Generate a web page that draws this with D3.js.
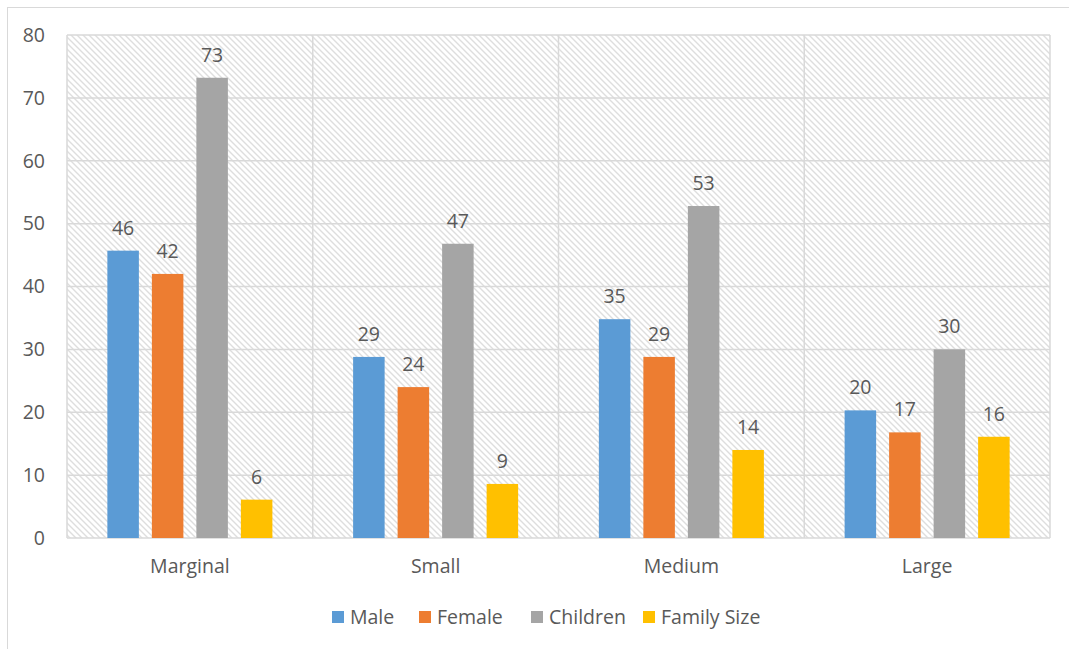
<!DOCTYPE html>
<html>
<head>
<meta charset="utf-8">
<script src="https://cdnjs.cloudflare.com/ajax/libs/d3/7.8.5/d3.min.js"></script>
<style>
body { margin: 0; background: #fff; font-family: "Open Sans", sans-serif; }
text { fill: #595959; }
</style>
</head>
<body>
<svg id="chart" width="1069" height="649"></svg>
<script>
var categories = ['Marginal', 'Small', 'Medium', 'Large'];
var seriesNames = ['Male', 'Female', 'Children', 'Family Size'];
var colors = ['#5b9bd5', '#ed7d31', '#a5a5a5', '#ffc000'];
var male = [45.7, 28.8, 34.8, 20.3];
var female = [42.0, 24.0, 28.8, 16.8];
var children = [73.2, 46.8, 52.8, 30.0];
var familySize = [6.1, 8.6, 14.0, 16.1];
var yTicks = [0, 10, 20, 30, 40, 50, 60, 70, 80];

var series = [male, female, children, familySize];

var svg = d3.select('#chart');
var plotLeft = 67, plotRight = 1050, plotTop = 35, plotBottom = 538;
var fontFam = '"Open Sans", sans-serif';
var fontSize = 19.5;

// outer chart border
svg.append('rect')
  .attr('x', 7.5).attr('y', 7.5)
  .attr('width', 1075).attr('height', 660)
  .attr('fill', 'none').attr('stroke', '#d9d9d9').attr('stroke-width', 1);

// hatch pattern for plot area
var defs = svg.append('defs');
var pat = defs.append('pattern')
  .attr('id', 'hatch')
  .attr('patternUnits', 'userSpaceOnUse')
  .attr('width', 6).attr('height', 6);
pat.append('path')
  .attr('d', 'M-1,-1 L7,7 M-7,-1 L1,7 M5,-1 L13,7')
  .attr('stroke', '#dedede').attr('stroke-width', 1.4);

var x = d3.scaleBand().domain(categories).range([plotLeft, plotRight]);
var xInner = d3.scaleBand().domain(seriesNames).range([0, x.bandwidth()]).paddingInner(0.292).paddingOuter(0.907);
var y = d3.scaleLinear().domain([0, 80]).range([plotBottom, plotTop]);

svg.append('rect')
  .attr('x', plotLeft).attr('y', plotTop)
  .attr('width', plotRight - plotLeft).attr('height', plotBottom - plotTop)
  .attr('fill', 'url(#hatch)');

// horizontal gridlines
svg.append('g')
  .selectAll('line')
  .data(yTicks)
  .join('line')
  .attr('x1', plotLeft).attr('x2', plotRight)
  .attr('y1', function(d) { return y(d); })
  .attr('y2', function(d) { return y(d); })
  .attr('stroke', '#d9d9d9').attr('stroke-width', 1.5);

// vertical gridlines at category boundaries
var bounds = categories.map(function(c) { return x(c); }).concat([plotRight]);
svg.append('g')
  .selectAll('line')
  .data(bounds)
  .join('line')
  .attr('x1', function(d) { return d; }).attr('x2', function(d) { return d; })
  .attr('y1', plotTop).attr('y2', plotBottom)
  .attr('stroke', '#d9d9d9').attr('stroke-width', 1.5);

// y axis labels
var yAxis = svg.append('g')
  .attr('transform', 'translate(' + (plotLeft - 22) + ',0)')
  .call(d3.axisLeft(y).tickValues(yTicks).tickSize(0).tickPadding(0));
yAxis.select('.domain').remove();
yAxis.selectAll('text')
  .attr('font-family', fontFam).attr('font-size', fontSize).attr('fill', '#595959');

// x axis labels
var xAxis = svg.append('g')
  .attr('transform', 'translate(0,' + plotBottom + ')')
  .call(d3.axisBottom(x).tickSize(0).tickPadding(21));
xAxis.select('.domain').remove();
xAxis.selectAll('text')
  .attr('font-family', fontFam).attr('font-size', fontSize).attr('fill', '#595959');

// bars
var rows = [];
categories.forEach(function(c, i) {
  series.forEach(function(s, j) {
    rows.push({cat: c, name: seriesNames[j], value: s[i], color: colors[j]});
  });
});

var g = svg.append('g');
g.selectAll('rect')
  .data(rows)
  .join('rect')
  .attr('x', function(d) { return x(d.cat) + xInner(d.name); })
  .attr('y', function(d) { return y(d.value); })
  .attr('width', xInner.bandwidth())
  .attr('height', function(d) { return y(0) - y(d.value); })
  .attr('fill', function(d) { return d.color; });

g.selectAll('text')
  .data(rows)
  .join('text')
  .attr('x', function(d) { return x(d.cat) + xInner(d.name) + xInner.bandwidth() / 2; })
  .attr('y', function(d) { return y(d.value) - 16; })
  .attr('text-anchor', 'middle')
  .attr('font-family', fontFam)
  .attr('font-size', fontSize)
  .text(function(d) { return d3.format('.0f')(d.value); });

// legend
var legendX = [332, 419, 531, 643];
var legend = svg.append('g').selectAll('g')
  .data(seriesNames)
  .join('g')
  .attr('transform', function(d, i) { return 'translate(' + legendX[i] + ',611)'; });
legend.append('rect')
  .attr('width', 12).attr('height', 12)
  .attr('fill', function(d, i) { return colors[i]; });
legend.append('text')
  .attr('x', 18).attr('y', 13)
  .attr('font-family', fontFam)
  .attr('font-size', fontSize)
  .text(function(d) { return d; });
</script>
</body>
</html>
